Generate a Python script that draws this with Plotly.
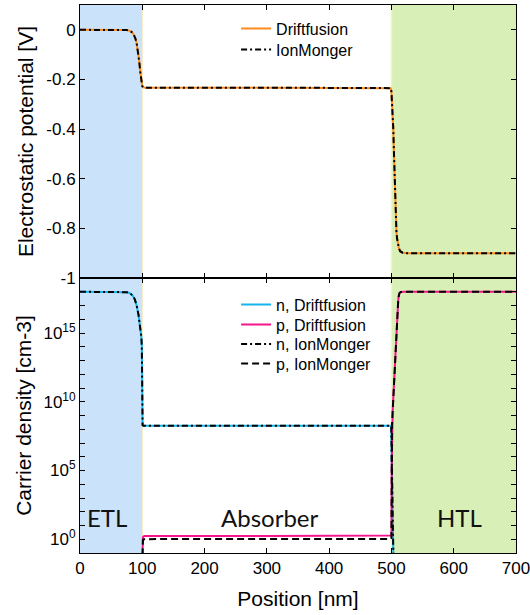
import plotly.graph_objects as go

# ---------------- data ----------------
# Electrostatic potential [V] vs position [nm]
pos_phi = [0, 60, 75, 80, 83, 86, 89, 91, 93, 95, 97, 98, 99, 100, 102, 104, 300, 498, 499, 500,
           501, 502, 503, 504, 505, 506, 507, 508, 509, 510, 512, 514, 518, 525, 700]
phi_df = [0, 0, -0.001, -0.004, -0.009, -0.018, -0.035, -0.055, -0.085, -0.125,
          -0.175, -0.2, -0.218, -0.227, -0.232, -0.233, -0.233, -0.233, -0.235, -0.25,
          -0.29, -0.345, -0.40, -0.49, -0.60, -0.69, -0.76, -0.81, -0.84, -0.86,
          -0.88, -0.892, -0.898, -0.9, -0.9]
phi_im = [0, 0, -0.001, -0.004, -0.009, -0.018, -0.035, -0.055, -0.085, -0.125,
          -0.175, -0.2, -0.218, -0.227, -0.232, -0.233, -0.233, -0.233, -0.235, -0.25,
          -0.29, -0.345, -0.40, -0.49, -0.60, -0.69, -0.76, -0.81, -0.84, -0.86,
          -0.88, -0.892, -0.898, -0.9, -0.9]

# Electron density [cm-3]
pos_n = [0, 60, 70, 75, 80, 85, 88, 91, 94, 96, 97.5, 98.5, 99.3, 99.7, 100, 100.5, 102,
         300, 499, 499.7, 500, 500.3, 501, 510, 700]
n_df = [1e18, 1e18, 9.8e17, 9.3e17, 8e17, 5e17, 2.8e17, 1e17, 2e16, 5e15, 1.6e15, 5e14,
        1e14, 3e12, 4e8, 2e8, 1.8e8, 1.8e8, 1.8e8, 1.3e8, 1e3, 1e-3, 1e-8, 1e-20, 1e-20]
n_im = [1e18, 1e18, 9.8e17, 9.3e17, 8e17, 5e17, 2.8e17, 1e17, 2e16, 5e15, 1.6e15, 5e14,
        1e14, 3e12, 4e8, 2e8, 1.8e8, 1.8e8, 1.8e8, 1.3e8, 1e3, 1e-3, 1e-8, 1e-20, 1e-20]

# Hole density [cm-3]
pos_p = [0, 99.8, 100, 100.4, 101, 102, 104, 300, 499, 500, 500.4, 500.9, 502, 503, 504,
         505, 506, 507, 508, 509, 510, 511, 512, 513, 515, 520, 700]
p_df = [1e-20, 1e-12, 1e-2, 0.9, 1.4, 1.6, 1.7, 1.7, 1.7, 1.9, 1e5, 2e8, 2e9, 2e10, 2e11,
        2.5e12, 2.5e13, 2.5e14, 3e15, 2.5e16, 1e17, 2.8e17, 5.6e17, 8e17, 9.5e17, 1e18, 1e18]
p_im = [1e-20, 1e-12, 1e-2, 0.55, 0.85, 0.97, 1.02, 1.04, 1.04, 1.2, 1e5, 2e8, 2e9, 2e10, 2e11,
        2.5e12, 2.5e13, 2.5e14, 3e15, 2.5e16, 1e17, 2.8e17, 5.6e17, 8e17, 9.5e17, 1e18, 1e18]

# Ticks and labels
x_ticks = [0, 100, 200, 300, 400, 500, 600, 700]
phi_ticks = [0, -0.2, -0.4, -0.6, -0.8, -1]
phi_ticktext = ["0", "-0.2", "-0.4", "-0.6", "-0.8", "-1"]
dens_ticks = [1e0, 1e5, 1e10, 1e15]
dens_ticktext = ["10<sup>0</sup>", "10<sup>5</sup>", "10<sup>10</sup>", "10<sup>15</sup>"]
dens_minor = [10.0 ** k for k in range(-1, 20)]

regions = ["ETL", "Absorber", "HTL"]
region_label_x = [44, 305, 609]
region_label_logy = 1.56
etl_span = [0, 100]
htl_span = [500, 700]

# ---------------- figure ----------------
ORANGE = "#ff8c1a"
CYAN = "#13b5ea"
MAGENTA = "#f5168e"
DASHDOT = "6px,3px,2px,3px"
DASH = "7px,4px"
FONT = "Liberation Sans, Arial, sans-serif"

W, H = 530, 615
ML, MR, MT, MB = 80, 14, 5, 62
PH = H - MT - MB


def ypaper(px_top):
    return 1 - (px_top - MT) / PH


fig = go.Figure()

traces = [
    (pos_phi, phi_df, "Driftfusion", dict(color=ORANGE, width=2), "x", "y"),
    (pos_phi, phi_im, "IonMonger", dict(color="black", width=2, dash=DASHDOT), "x", "y"),
    (pos_n, n_df, "n, Driftfusion", dict(color=CYAN, width=2), "x2", "y2"),
    (pos_p, p_df, "p, Driftfusion", dict(color=MAGENTA, width=2), "x2", "y2"),
    (pos_n, n_im, "n, IonMonger", dict(color="black", width=2, dash=DASHDOT), "x2", "y2"),
    (pos_p, p_im, "p, IonMonger", dict(color="black", width=2, dash=DASH), "x2", "y2"),
]
# legend entry centres (pixels from top of the page)
legend_centres = [28, 49, 304, 324, 343.5, 363]
legend_left = 0.358

legend_layouts = {}
for i, ((xs, ys, name, line, xa, ya), cy) in enumerate(zip(traces, legend_centres)):
    lname = "legend" if i == 0 else "legend%d" % (i + 1)
    fig.add_trace(go.Scatter(x=xs, y=ys, mode="lines", name=name, line=line,
                             xaxis=xa, yaxis=ya, legend=lname))
    legend_layouts[lname] = dict(x=legend_left, y=ypaper(cy - 16.5), xanchor="left", yanchor="top",
                                 bgcolor="rgba(0,0,0,0)",
                                 font=dict(family=FONT, size=16, color="black"))

shapes = []
for ya in ["y domain", "y2 domain"]:
    shapes.append(dict(type="rect", xref="x", yref=ya, x0=etl_span[0], x1=etl_span[1], y0=0, y1=1,
                       fillcolor="#cae3fb", line=dict(width=0), layer="below"))
    shapes.append(dict(type="rect", xref="x", yref=ya, x0=htl_span[0], x1=htl_span[1], y0=0, y1=1,
                       fillcolor="#d8f0b7", line=dict(width=0), layer="below"))
    shapes.append(dict(type="line", xref="x", yref=ya, x0=etl_span[1], x1=etl_span[1], y0=0, y1=1,
                       line=dict(color="#fbe8c0", width=1), layer="below"))
    shapes.append(dict(type="line", xref="x", yref=ya, x0=htl_span[0], x1=htl_span[0], y0=0, y1=1,
                       line=dict(color="#eef5c8", width=1.5), layer="below"))

annotations = []
for lab, xv in zip(regions, region_label_x):
    annotations.append(dict(text=lab, x=xv, y=region_label_logy, xref="x2", yref="y2", showarrow=False,
                            font=dict(family="Lato, sans-serif", size=24, color="#111111"),
                            xanchor="center", yanchor="middle"))

split = 275 / 548.0
common_axis = dict(showline=True, linecolor="black", linewidth=1, mirror="allticks",
                   ticks="inside", ticklen=5, tickcolor="black", tickwidth=1,
                   showgrid=False, zeroline=False, ticklabeloverflow="allow", automargin=False,
                   tickfont=dict(family=FONT, size=17, color="black"))

fig.update_layout(
    width=W, height=H,
    margin=dict(l=ML, r=MR, t=MT, b=MB, autoexpand=False),
    paper_bgcolor="white", plot_bgcolor="white",
    font=dict(family=FONT, color="black"),
    xaxis=dict(common_axis, domain=[0, 1], anchor="y", range=[0, 700], tickvals=x_ticks,
               showticklabels=False, matches="x2"),
    yaxis=dict(common_axis, domain=[split, 1], anchor="x", range=[-1, 0.1],
               tickvals=phi_ticks, ticktext=phi_ticktext,
               title=dict(text="Electrostatic potential [V]", font=dict(family=FONT, size=21),
                          standoff=6)),
    xaxis2=dict(common_axis, domain=[0, 1], anchor="y2", range=[0, 700], tickvals=x_ticks,
                title=dict(text="Position [nm]", font=dict(family=FONT, size=21), standoff=13)),
    yaxis2=dict(common_axis, domain=[0, split], anchor="x2", type="log", range=[-1, 19],
                tickvals=dens_ticks, ticktext=dens_ticktext,
                minor=dict(tickvals=dens_minor, ticks="inside", ticklen=5, tickcolor="black"),
                title=dict(text="Carrier density [cm-3]", font=dict(family=FONT, size=21),
                           standoff=6)),
    yaxis3=dict(overlaying="y2", side="right", anchor="x2", type="log", range=[-1, 19],
                tickvals=dens_minor, ticks="inside", ticklen=5, tickcolor="black", automargin=False,
                showticklabels=False, showgrid=False, zeroline=False, showline=False),
    shapes=shapes,
    annotations=annotations,
    showlegend=True,
    **legend_layouts,
)

fig.write_html("out.html")
